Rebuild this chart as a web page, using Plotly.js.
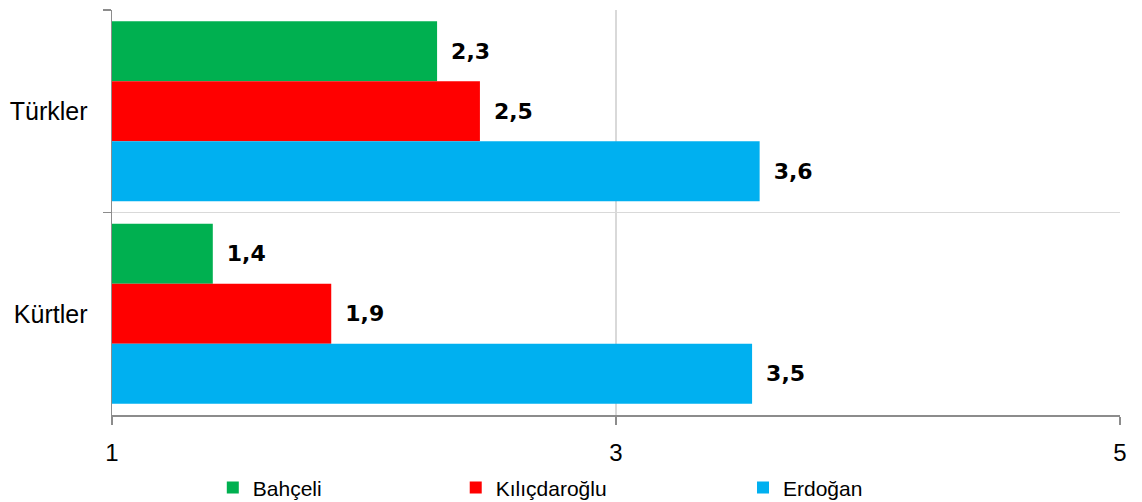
<!DOCTYPE html>
<html>
<head>
<meta charset="utf-8">
<script src="https://cdn.plot.ly/plotly-3.0.1.min.js"></script>
<style>html,body{margin:0;padding:0;background:#fff;}#chart{width:1142px;height:502px;}</style>
</head>
<body>
<div id="chart"></div>
<script>
var categories = ["Türkler", "Kürtler"];
var seriesNames = ["Bahçeli", "Kılıçdaroğlu", "Erdoğan"];
var bahceli = [2.29, 1.40];
var kilicdaroglu = [2.46, 1.87];
var erdogan = [3.57, 3.54];
var xTicks = [1, 3, 5];

var colors = ["#00B050", "#FF0000", "#00B0F0"];
var values = [bahceli, kilicdaroglu, erdogan];
var legendNames = ["legend", "legend2", "legend3"];

var traces = values.map(function (v, i) {
  return {
    type: "bar",
    orientation: "h",
    name: seriesNames[i],
    y: categories,
    x: v,
    marker: {color: colors[i]},
    texttemplate: "\u2002%{x:.1f}",
    textposition: "outside",
    cliponaxis: false,
    textfont: {family: "DejaVu Sans", size: 22, color: "#000", weight: "bold"},
    legend: legendNames[i],
    hoverinfo: "none"
  };
});

var legendBase = {
  orientation: "h",
  yref: "container",
  yanchor: "middle",
  y: 0.028,
  xanchor: "left",
  font: {family: "Liberation Sans", size: 21, color: "#000"},
  bgcolor: "rgba(0,0,0,0)"
};

var layout = {
  width: 1142,
  height: 502,
  margin: {l: 112, r: 22, t: 10, b: 87},
  paper_bgcolor: "#fff",
  plot_bgcolor: "#fff",
  separators: ",.",
  barmode: "group",
  bargap: 0.11,
  bargroupgap: 0,
  xaxis: {
    range: [1, 5],
    tickvals: xTicks,
    ticktext: xTicks.map(String),
    showgrid: true,
    gridcolor: "#D9D9D9",
    gridwidth: 1.5,
    zeroline: false,
    showline: true,
    linecolor: "#8C8C8C",
    linewidth: 1.5,
    ticks: "outside",
    ticklen: 8,
    tickcolor: "#8C8C8C",
    tickwidth: 1.5,
    ticklabelstandoff: 8,
    tickfont: {family: "Liberation Sans", size: 24, color: "#000"},
    automargin: false,
    fixedrange: true
  },
  yaxis: {
    type: "category",
    autorange: "reversed",
    tickson: "boundaries",
    showgrid: true,
    gridcolor: "#D9D9D9",
    gridwidth: 1.5,
    showline: true,
    linecolor: "#8C8C8C",
    linewidth: 1.5,
    ticks: "outside",
    ticklen: 8,
    tickcolor: "#8C8C8C",
    tickwidth: 1.5,
    ticklabelstandoff: 18,
    tickfont: {family: "Liberation Sans", size: 25, color: "#000"},
    automargin: false,
    fixedrange: true
  },
  legend: Object.assign({}, legendBase, {x: 0.100}),
  legend2: Object.assign({}, legendBase, {x: 0.341}),
  legend3: Object.assign({}, legendBase, {x: 0.626}),
  showlegend: true
};

Plotly.newPlot("chart", traces, layout, {displayModeBar: false, staticPlot: true});
</script>
</body>
</html>
